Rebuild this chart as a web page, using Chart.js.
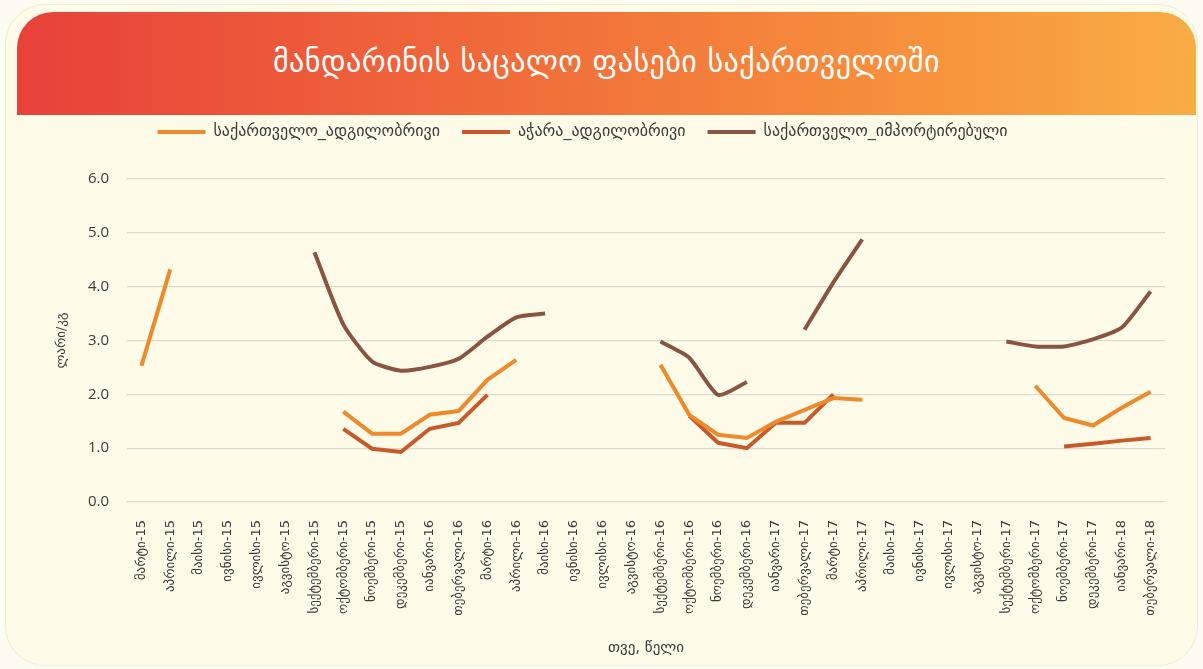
<!DOCTYPE html>
<html>
<head>
<meta charset="utf-8">
<script src="https://cdn.jsdelivr.net/npm/chart.js@4"></script>
<style>
    html, body { margin: 0; padding: 0; }
    body { width: 1203px; height: 669px; background: #fdfcf3; position: relative; overflow: hidden; }
    .card {
        position: absolute; left: 5px; top: 4px; width: 1193px; height: 662px;
        background: #fefbe9; border: 1px solid #f1ecd4; border-radius: 40px; box-sizing: border-box;
    }
    .banner {
        position: absolute; left: 17px; top: 12px; width: 1179px; height: 103px; z-index: 2;
        border-radius: 36px 36px 0 0;
        background: linear-gradient(to right, #e8413a 0%, #f06a3a 40%, #f7963c 80%, #f9ad45 100%);
        color: #fff; font-family: 'DejaVu Sans', sans-serif; font-size: 30px;
        text-align: center; line-height: 100px; letter-spacing: 0.5px;
    }
    #wrap { position: absolute; left: 0; top: 102px; width: 1203px; height: 567px; z-index: 1; }
</style>
</head>
<body>
<div class="card"></div>
<div class="banner">მანდარინის საცალო ფასები საქართველოში</div>
<div id="wrap"><canvas id="chart" width="1203" height="567"></canvas></div>
<script>
const months = [
    'მარტი-15', 'აპრილი-15', 'მაისი-15', 'ივნისი-15', 'ივლისი-15', 'აგვისტო-15',
    'სექტემბერი-15', 'ოქტომბერი-15', 'ნოემბერი-15', 'დეკემბერი-15',
    'იანვარი-16', 'თებერვალი-16', 'მარტი-16', 'აპრილი-16', 'მაისი-16', 'ივნისი-16',
    'ივლისი-16', 'აგვისტო-16', 'სექტემბერი-16', 'ოქტომბერი-16', 'ნოემბერი-16', 'დეკემბერი-16',
    'იანვარი-17', 'თებერვალი-17', 'მარტი-17', 'აპრილი-17', 'მაისი-17', 'ივნისი-17',
    'ივლისი-17', 'აგვისტო-17', 'სექტემბერი-17', 'ოქტომბერი-17', 'ნოემბერი-17', 'დეკემბერი-17',
    'იანვარი-18', 'თებერვალი-18'
];

const seriesNames = ['საქართველო_ადგილობრივი', 'აჭარა_ადგილობრივი', 'საქართველო_იმპორტირებული'];

// ლარი/კგ
const georgiaLocal = [
    2.53, 4.32, null, null, null, null, null, 1.68, 1.27, 1.27,
    1.62, 1.69, 2.27, 2.64, null, null, null, null, 2.55, 1.62, 1.25, 1.19,
    1.49, 1.71, 1.93, 1.90, null, null, null, null, null, 2.16, 1.56, 1.42,
    1.75, 2.05
];
const adjaraLocal = [
    null, null, null, null, null, null, null, 1.36, 0.99, 0.93,
    1.36, 1.47, 1.99, null, null, null, null, null, null, 1.60, 1.10, 1.00,
    1.47, 1.47, 2.00, null, null, null, null, null, null, null, 1.03, 1.08,
    1.14, 1.19
];
const georgiaImported = [
    null, null, null, null, null, null, 4.64, 3.30, 2.61, 2.44,
    2.51, 2.66, 3.07, 3.43, 3.50, null, null, null, 2.98, 2.68, 1.99, 2.23,
    null, 3.20, 4.08, 4.88, null, null, null, null, 2.98, 2.89, 2.89, 3.02,
    3.24, 3.91
];

const yTicks = [0, 1, 2, 3, 4, 5, 6];

const geoFont = 'DejaVu Sans';
const textColor = '#3a3a3a';

// fixed legend height so the plot lands where the original one is
const legendHeight = {
    id: 'legendHeight',
    beforeInit(chart) {
        const fit = chart.legend.fit;
        chart.legend.fit = function() {
            fit.call(this);
            this.height = 77;
        };
    }
};

function line(label, data, color, tension) {
    return {
        label: label,
        data: data,
        borderColor: color,
        backgroundColor: color,
        borderWidth: 4,
        pointRadius: 0,
        pointStyle: 'line',
        tension: tension,
        spanGaps: false,
    };
}

new Chart(document.getElementById('chart'), {
    type: 'line',
    data: {
        labels: months,
        datasets: [
            line(seriesNames[0], georgiaLocal, '#ee8a2c', 0),
            line(seriesNames[1], adjaraLocal, '#c85a2a', 0),
            line(seriesNames[2], georgiaImported, '#8a5442', 0.2),
        ],
    },
    options: {
        responsive: false,
        animation: false,
        layout: { padding: { left: 0, right: 38, top: 0, bottom: 0 } },
        plugins: {
            legend: {
                position: 'top',
                labels: {
                    usePointStyle: true,
                    pointStyle: 'line',
                    pointStyleWidth: 48,
                    padding: 22,
                    color: textColor,
                    font: { family: geoFont, size: 16 },
                },
            },
            tooltip: { enabled: false },
        },
        scales: {
            x: {
                offset: true,
                grid: { display: false },
                border: { display: false },
                ticks: {
                    autoSkip: false,
                    minRotation: 90,
                    maxRotation: 90,
                    padding: 10,
                    color: textColor,
                    font: { family: geoFont, size: 13 },
                },
                title: {
                    display: true,
                    text: 'თვე, წელი',
                    color: textColor,
                    font: { family: geoFont, size: 15 },
                    padding: { top: 0, bottom: 12 },
                },
                afterFit: function(scale) { scale.height = 167; },
            },
            y: {
                min: 0,
                max: 6,
                afterBuildTicks: function(scale) { scale.ticks = yTicks.map(function(v) { return { value: v }; }); },
                grid: { color: '#dcdad0', lineWidth: 1.3, drawTicks: false },
                border: { display: false },
                ticks: {
                    padding: 18,
                    color: textColor,
                    font: { family: 'Open Sans', size: 15 },
                    callback: function(v) { return Number(v).toFixed(1); },
                },
                title: {
                    display: true,
                    text: 'ლარი/კგ',
                    color: textColor,
                    font: { family: geoFont, size: 13 },
                    padding: { top: 54, bottom: 0 },
                },
                afterFit: function(scale) { scale.width = 127; },
            },
        },
    },
    plugins: [legendHeight],
});
</script>
</body>
</html>
